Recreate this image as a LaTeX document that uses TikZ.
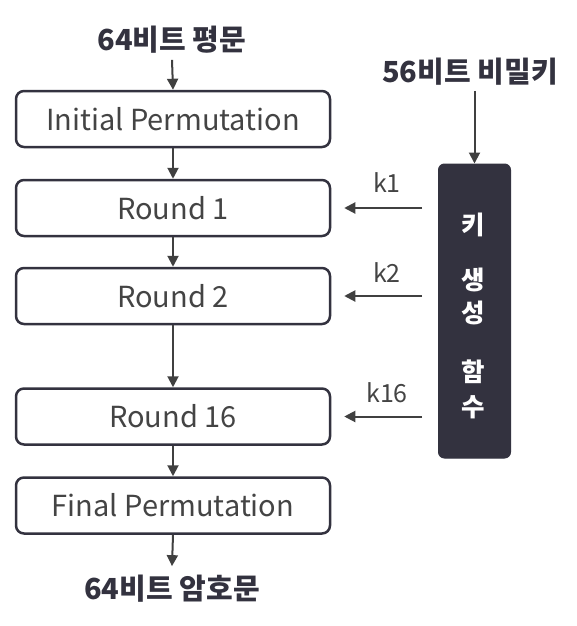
\documentclass[tikz,border=0pt]{standalone}
\usepackage{fontspec}
\setmainfont{Noto Sans CJK KR}
\usetikzlibrary{arrows.meta}
\definecolor{navy}{HTML}{33323F}
\definecolor{arr}{HTML}{404040}
\definecolor{txt}{HTML}{444444}
\begin{document}
\begin{tikzpicture}[x=1pt,y=-1pt,
  stage/.style={draw=navy, line width=2.5pt, rounded corners=8pt, minimum width=314pt, minimum height=56pt, inner sep=0pt, text=txt, font=\fontsize{29}{34}\selectfont},
  flow/.style={draw=arr, line width=2pt, -{Triangle[width=11pt,length=11pt]}},
  title/.style={font=\fontsize{29}{34}\selectfont\bfseries, text=navy, inner sep=0pt},
  klabel/.style={font=\fontsize{25}{30}\selectfont, text=txt, inner sep=0pt},
  vch/.style={font=\fontsize{25.5}{30}\selectfont\bfseries, text=white, inner sep=0pt}]
\useasboundingbox (0,0) rectangle (576,626);
\node[title] (pt) at (172,40) {64비트 평문};
\node[stage] (ip) at (173,119) {Initial Permutation};
\node[stage] (r1) at (173,208) {Round 1};
\node[stage] (r2) at (173,296) {Round 2};
\node[stage] (r16) at (173,416.5) {Round 16};
\node[stage] (fp) at (173,505.5) {Final Permutation};
\node[title] (ct) at (172,589) {64비트 암호문};
\node[title] (key) at (470,72) {56비트 비밀키};
\node[draw=navy, fill=navy, line width=1pt, rounded corners=6pt, minimum width=72pt, minimum height=294pt, inner sep=0pt] (kg) at (474.5,311) {};
\node[vch] (c1) at (473,225) {키};
\node[vch] (c2) at (473,280) {생};
\node[vch] (c3) at (473,313) {성};
\node[vch] (c4) at (473,372) {함};
\node[vch] (c5) at (473,407) {수};
\node[klabel] (k1) at (387,183) {k1};
\node[klabel] (k2) at (387,273) {k2};
\node[klabel] (k16) at (387,393) {k16};
\draw[flow] ([yshift=-6pt]pt.south) -- (ip.north);
\draw[flow] (ip.south) -- (r1.north);
\draw[flow] (r1.south) -- (r2.north);
\draw[flow] (r2.south) -- (r16.north);
\draw[flow] (r16.south) -- (fp.north);
\draw[flow] (fp.south) -- ([yshift=9pt]ct.north);
\draw[flow] ([yshift=-5pt]key.south -| kg.north) -- (kg.north);
\draw[flow] ([xshift=-16pt]kg.west |- r1.east) -- ([xshift=13pt]r1.east);
\draw[flow] ([xshift=-16pt]kg.west |- r2.east) -- ([xshift=13pt]r2.east);
\draw[flow] ([xshift=-16pt]kg.west |- r16.east) -- ([xshift=13pt]r16.east);
\end{tikzpicture}
\end{document}
